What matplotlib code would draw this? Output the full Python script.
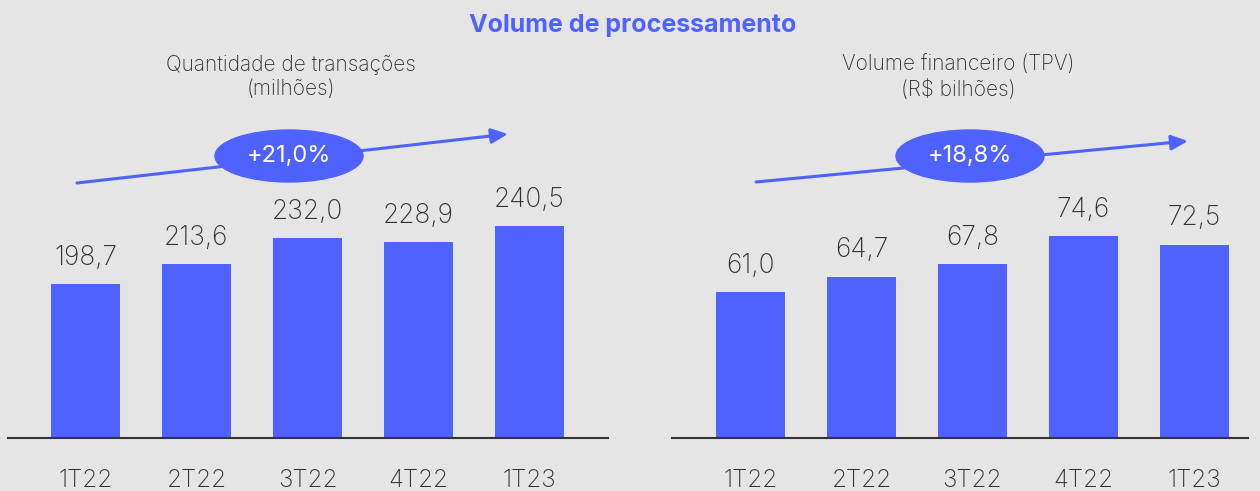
import matplotlib.pyplot as plt
from matplotlib.patches import Ellipse

plt.rcParams['font.family'] = ['Inter', 'DejaVu Sans']

trimestres = ['1T22', '2T22', '3T22', '4T22', '1T23']
transacoes = [198.7, 213.6, 232.0, 228.9, 240.5]
tpv = [61.0, 64.7, 67.8, 74.6, 72.5]
crescimento = ['+21,0%', '+18,8%']
subtitulos = ['Quantidade de transações\n(milhões)', 'Volume financeiro (TPV)\n(R$ bilhões)']

azul = '#4F62FE'
fundo = '#E5E5E5'
cinza = '#333333'

fig = plt.figure(figsize=(12.6, 4.91), dpi=100, facecolor=fundo)
W, H = 1260, 491

def eixo(x0, x1):
    # axes from pixel x0..x1, bottom at y=438, top at y=0
    return fig.add_axes([x0 / W, 1 - 438 / H, (x1 - x0) / W, 438 / H])

ax1 = eixo(8, 608)
ax2 = eixo(672, 1248)

for ax, vals, ylim, xlim in [(ax1, transacoes, (88, 403.6), (-0.698, 4.707)),
                             (ax2, tpv, (25.5, 131.9), (-0.707, 4.482))]:
    x = range(len(vals))
    ax.bar(x, vals, width=0.62, color=azul)
    ax.set_xlim(*xlim)
    ax.set_ylim(*ylim)
    ax.set_facecolor('none')
    for s in ['top', 'right', 'left']:
        ax.spines[s].set_visible(False)
    ax.spines['bottom'].set_color(cinza)
    ax.spines['bottom'].set_linewidth(1.5)
    ax.set_yticks([])
    ax.set_xticks(list(x))
    ax.set_xticklabels(trimestres, fontsize=17.5, color=cinza, fontweight='light')
    ax.tick_params(axis='x', length=0, pad=22)
    off = (ylim[1] - ylim[0]) * 0.03
    for i, v in zip(x, vals):
        ax.text(i, v + off, f'{v:.1f}'.replace('.', ','), ha='center', va='bottom',
                fontsize=19, color=cinza, fontweight='light', clip_on=False)

# camada de anotações em pixels
ov = fig.add_axes([0, 0, 1, 1])
ov.set_xlim(0, W)
ov.set_ylim(H, 0)
ov.axis('off')

ov.text(633, 25, 'Volume de processamento', ha='center', va='center',
        fontsize=18, fontweight='bold', color=azul)
ov.text(291, 77, subtitulos[0], ha='center', va='center', fontsize=15,
        color=cinza, linespacing=1.25, fontweight='light')
ov.text(958, 77, subtitulos[1], ha='center', va='center', fontsize=15,
        color=cinza, linespacing=1.25, fontweight='light')

setas = [((77, 183), (508, 134), (289, 156)), ((756, 182), (1188, 141), (970, 156))]
for (p0, p1, c), txt in zip(setas, crescimento):
    ov.annotate('', xy=p1, xytext=p0,
                arrowprops=dict(arrowstyle='-|>,head_length=1.0,head_width=0.45',
                                color=azul, lw=2.2, shrinkA=0, shrinkB=0))
    ov.add_patch(Ellipse(c, 148, 52, color=azul, zorder=3))
    ov.text(c[0], c[1], txt, ha='center', va='center', fontsize=17,
            color='white', zorder=4)

fig.savefig('out.png', dpi=100, facecolor=fundo)
